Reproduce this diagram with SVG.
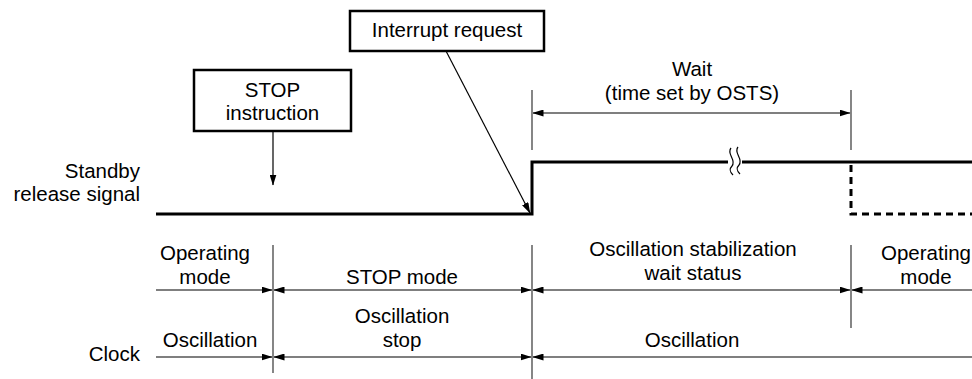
<svg xmlns="http://www.w3.org/2000/svg" width="972" height="379" viewBox="0 0 972 379">
<defs>
<marker id="ah" markerWidth="11" markerHeight="7" refX="10.5" refY="3.5" orient="auto-start-reverse" markerUnits="userSpaceOnUse">
<path d="M0,0 L11,3.5 L0,7 z" fill="#000"/>
</marker>
<style>
text{font-family:"Liberation Sans",Arial,sans-serif;font-size:20.5px;fill:#000;text-anchor:middle}
.r{text-anchor:end}
.box{fill:#fff;stroke:#000;stroke-width:2.5}
.thin{stroke:#000;stroke-width:1.2;fill:none}
.mk{stroke:#444;stroke-width:1.3;fill:none}
.sig{stroke:#000;stroke-width:3;fill:none}
.dash{stroke:#000;stroke-width:3;fill:none;stroke-dasharray:7,5}
.arr{stroke:#000;stroke-width:1.2;fill:none;marker-end:url(#ah)}
.arr2{stroke:#000;stroke-width:1.2;fill:none;marker-end:url(#ah);marker-start:url(#ah)}
.arrs{stroke:#000;stroke-width:1.2;fill:none;marker-start:url(#ah)}
</style>
</defs>
<rect width="972" height="379" fill="#fff"/>

<g id="labels">
<text class="r" x="140" y="178">Standby</text>
<text class="r" x="140" y="201">release signal</text>
<text class="r" x="140" y="361">Clock</text>
</g>

<g id="signal">
<polyline class="sig" points="156,214 532,214 532,162 972,162"/>
<polyline class="dash" points="851,165 851,214 972,214"/>
<rect x="728" y="148" width="14" height="26" fill="#fff"/>
<path class="thin" d="M731,148 C726,154 737,160 732,166 C728,170 731,173 733,175"/>
<path class="thin" d="M738,147 C733,153 744,159 739,165 C735,169 738,172 740,174"/>
</g>

<g id="connectors">
<line class="mk" x1="532" y1="90" x2="532" y2="150"/>
<line class="mk" x1="851" y1="90" x2="851" y2="150"/>
<line class="arr2" x1="533" y1="113" x2="850" y2="113"/>
<line class="arr" x1="273" y1="131" x2="273" y2="185"/>
<line class="arr" x1="446" y1="51" x2="530" y2="213"/>

<line class="mk" x1="273" y1="245" x2="273" y2="373"/>
<line class="mk" x1="532" y1="245" x2="532" y2="379"/>
<line class="mk" x1="851" y1="245" x2="851" y2="328"/>

<line class="arr" x1="156" y1="290" x2="272" y2="290"/>
<line class="arr2" x1="274" y1="290" x2="531" y2="290"/>
<line class="arr2" x1="533" y1="290" x2="850" y2="290"/>
<line class="arrs" x1="852" y1="290" x2="972" y2="290"/>

<line class="arr" x1="156" y1="357" x2="272" y2="357"/>
<line class="arr2" x1="274" y1="357" x2="531" y2="357"/>
<line class="arrs" x1="533" y1="357" x2="972" y2="357"/>
</g>

<g id="stop-instruction">
<rect class="box" x="194" y="70" width="157" height="61"/>
<text x="272.5" y="97">STOP</text>
<text x="272.5" y="120">instruction</text>
</g>

<g id="interrupt-request">
<rect class="box" x="350" y="11" width="194" height="40"/>
<text x="447" y="37">Interrupt request</text>
</g>

<g id="wait">
<text x="692" y="76">Wait</text>
<text x="692" y="100">(time set by OSTS)</text>
</g>

<g id="operating-mode-1">
<text x="205" y="260">Operating</text>
<text x="205" y="284">mode</text>
</g>
<g id="stop-mode">
<text x="402" y="284">STOP mode</text>
</g>
<g id="osc-stab-wait">
<text x="693" y="256">Oscillation stabilization</text>
<text x="693" y="280">wait status</text>
</g>
<g id="operating-mode-2">
<text x="926" y="260">Operating</text>
<text x="926" y="284">mode</text>
</g>
<g id="oscillation-1">
<text x="210" y="347">Oscillation</text>
</g>
<g id="oscillation-stop">
<text x="402" y="323">Oscillation</text>
<text x="402" y="347">stop</text>
</g>
<g id="oscillation-2">
<text x="692" y="347">Oscillation</text>
</g>
</svg>
